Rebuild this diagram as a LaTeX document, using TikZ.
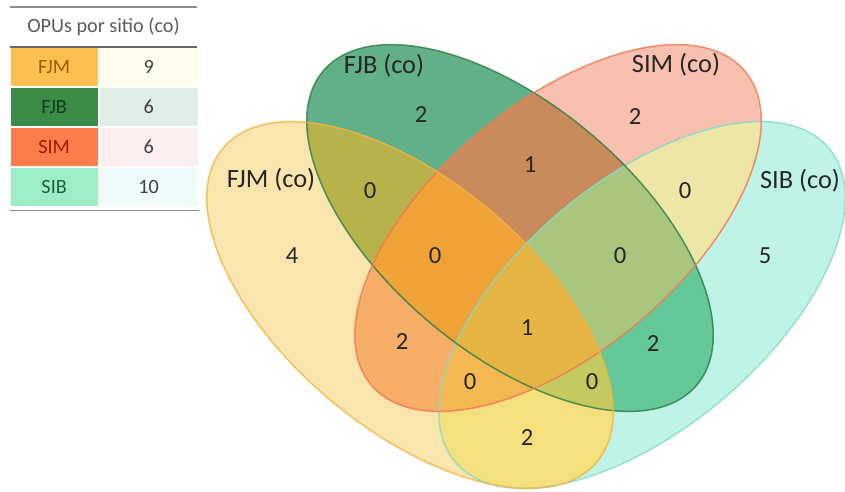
\documentclass[tikz,border=0pt]{standalone}
\usepackage{fontspec}
\setmainfont{Carlito}
\usetikzlibrary{positioning}

% region colours of the Venn diagram
\definecolor{cM}{HTML}{FBE5AE}
\definecolor{cB}{HTML}{62B088}
\definecolor{cS}{HTML}{F8C0AE}
\definecolor{cI}{HTML}{C0F3E8}
\definecolor{cMB}{HTML}{B8B24A}
\definecolor{cMS}{HTML}{F6AE68}
\definecolor{cMI}{HTML}{F4E07C}
\definecolor{cBS}{HTML}{C98A5C}
\definecolor{cBI}{HTML}{64C898}
\definecolor{cSI}{HTML}{EEE6A6}
\definecolor{cMBS}{HTML}{EFA236}
\definecolor{cMBI}{HTML}{C6C860}
\definecolor{cMSI}{HTML}{F3B852}
\definecolor{cBSI}{HTML}{A8C67E}
\definecolor{cAll}{HTML}{E6B445}
% outlines
\definecolor{fjmline}{HTML}{F2B440}
\definecolor{fjbline}{HTML}{2E7D46}
\definecolor{simline}{HTML}{F07850}
\definecolor{sibline}{HTML}{80DCC8}
% table
\definecolor{fjmcell}{HTML}{FDC050}
\definecolor{fjmtext}{HTML}{A05A00}
\definecolor{fjmnum}{HTML}{FFFEEC}
\definecolor{fjbcell}{HTML}{3C8C48}
\definecolor{fjbtext}{HTML}{123D1E}
\definecolor{fjbnum}{HTML}{E0EEE8}
\definecolor{simcell}{HTML}{FF7D4C}
\definecolor{simtext}{HTML}{9C1A00}
\definecolor{simnum}{HTML}{FDEEEF}
\definecolor{sibcell}{HTML}{9CEEC4}
\definecolor{sibtext}{HTML}{1E5E3C}
\definecolor{sibnum}{HTML}{EEFBFA}

\newcommand{\fjmoval}{(410,305) ellipse [x radius=244, y radius=124]}
\newcommand{\fjboval}{(510,228) ellipse [x radius=244, y radius=124]}
\newcommand{\simoval}{(558,228) ellipse [x radius=244, y radius=124]}
\newcommand{\siboval}{(642,305) ellipse [x radius=244, y radius=124]}

\begin{document}
\begin{tikzpicture}[x=0.02cm, y=-0.02cm]
% Define the styles
\tikzstyle{fjmturn} = [rotate around={-40:(410,305)}]
\tikzstyle{fjbturn} = [rotate around={-40:(510,228)}]
\tikzstyle{simturn} = [rotate around={40:(558,228)}]
\tikzstyle{sibturn} = [rotate around={40:(642,305)}]
\tikzstyle{outline} = [line width=0.03cm, draw opacity=0.8]
\tikzstyle{setname} = [font=\fontsize{15}{18}\selectfont, text=black!85]
\tikzstyle{tally} = [font=\fontsize{14}{17}\selectfont, text=black!85]
\tikzstyle{cell} = [minimum height=0.78cm, inner sep=0pt, draw=white, line width=0.02cm, font=\fontsize{11.5}{14}\selectfont]
\tikzstyle{namecell} = [cell, minimum width=1.76cm]
\tikzstyle{numcell} = [cell, minimum width=1.98cm, text=black!75]
\tikzstyle{rule} = [draw=black!45, line width=0.03cm]

\useasboundingbox (0,0) rectangle (845,491);

% Single sets
\fill[sibturn, cI] \siboval;
\fill[fjbturn, cB] \fjboval;
\fill[simturn, cS] \simoval;
\fill[fjmturn, cM] \fjmoval;

% Pairs
\begin{scope}\clip[fjmturn] \fjmoval; \fill[fjbturn, cMB] \fjboval; \end{scope}
\begin{scope}\clip[fjmturn] \fjmoval; \fill[simturn, cMS] \simoval; \end{scope}
\begin{scope}\clip[fjmturn] \fjmoval; \fill[sibturn, cMI] \siboval; \end{scope}
\begin{scope}\clip[fjbturn] \fjboval; \fill[simturn, cBS] \simoval; \end{scope}
\begin{scope}\clip[fjbturn] \fjboval; \fill[sibturn, cBI] \siboval; \end{scope}
\begin{scope}\clip[simturn] \simoval; \fill[sibturn, cSI] \siboval; \end{scope}

% Triples
\begin{scope}\clip[fjmturn] \fjmoval; \clip[fjbturn] \fjboval; \fill[simturn, cMBS] \simoval; \end{scope}
\begin{scope}\clip[fjmturn] \fjmoval; \clip[fjbturn] \fjboval; \fill[sibturn, cMBI] \siboval; \end{scope}
\begin{scope}\clip[fjmturn] \fjmoval; \clip[simturn] \simoval; \fill[sibturn, cMSI] \siboval; \end{scope}
\begin{scope}\clip[fjbturn] \fjboval; \clip[simturn] \simoval; \fill[sibturn, cBSI] \siboval; \end{scope}

% All four
\begin{scope}\clip[fjmturn] \fjmoval; \clip[fjbturn] \fjboval; \clip[simturn] \simoval; \fill[sibturn, cAll] \siboval; \end{scope}

% Outlines
\draw[outline, sibline, sibturn] \siboval;
\draw[outline, fjbline, fjbturn] \fjboval;
\draw[outline, simline, simturn] \simoval;
\draw[outline, fjmline, fjmturn] \fjmoval;

% Set names
\node[setname] (lFJM) at (271,180) {FJM (co)};
\node[setname] (lFJB) at (384,66) {FJB (co)};
\node[setname] (lSIM) at (676,65) {SIM (co)};
\node[setname] (lSIB) at (800,181) {SIB (co)};

% Counts per region
\node[tally] (nB) at (421,115) {2};
\node[tally] (nS) at (635,117) {2};
\node[tally] (nBS) at (530,165) {1};
\node[tally] (nMB) at (370,191) {0};
\node[tally] (nSI) at (685,191) {0};
\node[tally] (nM) at (292,256) {4};
\node[tally] (nMBS) at (435,256) {0};
\node[tally] (nBSI) at (620,256) {0};
\node[tally] (nI) at (765,256) {5};
\node[tally] (nAll) at (527,328) {1};
\node[tally] (nMS) at (402,342) {2};
\node[tally] (nBI) at (653,344) {2};
\node[tally] (nMSI) at (470,382) {0};
\node[tally] (nMBI) at (592,382) {0};
\node[tally] (nMI) at (527,438) {2};

% Table of sites
\node[minimum width=3.74cm, minimum height=0.78cm, inner sep=0pt, text=black!65, font=\fontsize{11.5}{14}\selectfont] (thead) at (103.5,27) {OPUs por sitio (co)};
\node[namecell, fill=fjmcell, text=fjmtext, anchor=north west] (tFJM) at (thead.south west) {FJM};
\node[namecell, fill=fjbcell, text=fjbtext, below=0pt of tFJM] (tFJB) {FJB};
\node[namecell, fill=simcell, text=simtext, below=0pt of tFJB] (tSIM) {SIM};
\node[namecell, fill=sibcell, text=sibtext, below=0pt of tSIM] (tSIB) {SIB};
\node[numcell, fill=fjmnum, right=0pt of tFJM] (vFJM) {9};
\node[numcell, fill=fjbnum, right=0pt of tFJB] (vFJB) {6};
\node[numcell, fill=simnum, right=0pt of tSIM] (vSIM) {6};
\node[numcell, fill=sibnum, right=0pt of tSIB] (vSIB) {10};

\draw[rule] (thead.north west) -- (thead.north east);
\draw[rule, draw=black!60] (thead.south west) -- (thead.south east);
\draw[rule] ([yshift=-2pt]tSIB.south west) -- ([yshift=-2pt]vSIB.south east);

\end{tikzpicture}
\end{document}
